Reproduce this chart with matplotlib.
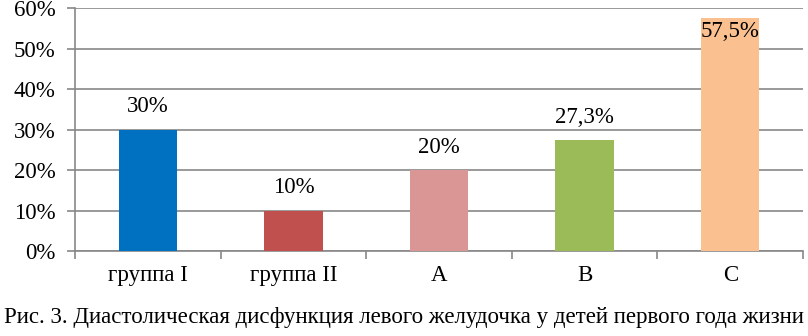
import matplotlib.pyplot as plt
from matplotlib.ticker import FixedLocator

plt.rcParams['font.family'] = ['Liberation Serif', 'DejaVu Serif']

# Data
categories = ['группа I', 'группа II', 'A', 'B', 'C']
values = [30, 10, 20, 27.3, 57.5]
value_labels = ['30%', '10%', '20%', '27,3%', '57,5%']
colors = ['#0070C0', '#C0504D', '#D99694', '#9BBB59', '#FAC090']
y_ticks = [0, 10, 20, 30, 40, 50, 60]
caption = 'Рис. 3. Диастолическая дисфункция левого желудочка у детей первого года жизни'

grid_col = '#888888'
fs = 16.5

fig = plt.figure(figsize=(8.08, 3.36), dpi=100)
ax = fig.add_axes([0.0928, 0.253, 0.901, 0.723])

x = range(len(categories))
ax.bar(x, values, width=0.4, color=colors, zorder=3)

# value labels above bars (C is too tall, so it goes inside)
for i, (v, lab) in enumerate(zip(values, value_labels)):
    ax.text(i, min(v + 5.6, 54.3), lab, ha='center', va='center',
            fontsize=fs, zorder=4)

ax.set_xlim(-0.5, len(categories) - 0.5)
ax.set_ylim(0, 60)
ax.set_yticks(y_ticks)
ax.set_yticklabels([f'{t}%' for t in y_ticks], fontsize=fs)
ax.yaxis.grid(True, color=grid_col, linewidth=1.2, zorder=0)

ax.set_xticks(list(x))
ax.set_xticklabels(categories, fontsize=fs)
ax.xaxis.set_minor_locator(FixedLocator([i - 0.5 for i in range(len(categories) + 1)]))
ax.tick_params(axis='x', which='major', length=0, pad=10)
ax.tick_params(axis='x', which='minor', length=6, color=grid_col, width=1.2)
ax.tick_params(axis='y', length=6, color=grid_col, width=1.2, pad=8)

for s in ['top', 'right']:
    ax.spines[s].set_visible(False)
for s in ['left', 'bottom']:
    ax.spines[s].set_color(grid_col)
    ax.spines[s].set_linewidth(1.2)

fig.text(0.5, 1 - 318 / 336, caption, ha='center', va='center', fontsize=fs)

plt.savefig('out.png', dpi=100)
